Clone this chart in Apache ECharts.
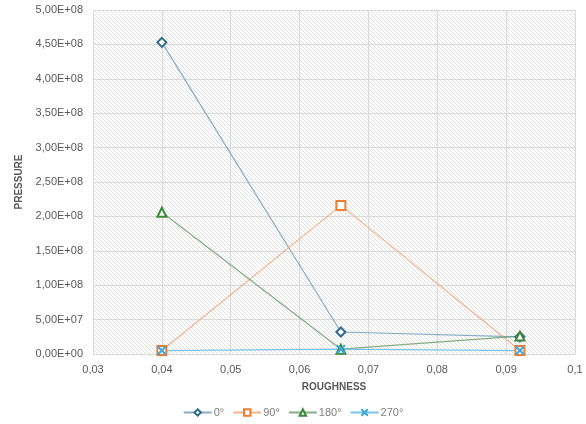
<!DOCTYPE html>
<html><head><meta charset="utf-8">
<script src="https://cdn.jsdelivr.net/npm/echarts@6/dist/echarts.min.js"></script>
<style>html,body{margin:0;padding:0;background:#fff}#c{width:586px;height:424px}</style>
</head><body><div id="c"></div>
<script>
const roughness = [0.04, 0.066, 0.092];
const s0 = [4.53e8, 3.2e7, 2.5e7];
const s90 = [5e6, 2.16e8, 5e6];
const s180 = [2.06e8, 7e6, 2.6e7];
const s270 = [5e6, 7e6, 5e6];
const seriesNames = ['0°', '90°', '180°', '270°'];

function pair(ys){ return roughness.map((x,i)=>[x, ys[i]]); }

const pc = document.createElement('canvas');
pc.width = 4; pc.height = 4;
const g = pc.getContext('2d');
g.fillStyle = '#ffffff'; g.fillRect(0,0,4,4);
g.strokeStyle = '#e0e0e0'; g.lineWidth = 1;
g.beginPath(); g.moveTo(-1,-1); g.lineTo(5,5); g.moveTo(-1,3); g.lineTo(1,5); g.moveTo(3,-1); g.lineTo(5,1); g.stroke();

function fmtY(v){
  if (v === 0) return '0,00E+00';
  let e = Math.floor(Math.log10(Math.abs(v)) + 1e-9);
  let m = v / Math.pow(10, e);
  return m.toFixed(2).replace('.', ',') + 'E+' + String(e).padStart(2,'0');
}
function fmtX(v){ return String(Math.round(v*100)/100).replace('.', ','); }

const ff = 'Liberation Sans, Arial, sans-serif';
const chart = echarts.init(document.getElementById('c'));
const mk = (name, data, sym, color, lineColor, size) => ({
  name, type:'line', data: pair(data), symbol: sym, symbolSize: size,
  showSymbol:true,
  lineStyle:{color: lineColor, width:1.2},
  itemStyle:{color: color, borderColor: color, borderWidth: 2},
  z: 3
});
chart.setOption({
  animation:false,
  grid:{left:93, right:11, top:10, bottom:70, show:true, backgroundColor:{image: pc, repeat:'repeat'}, borderWidth:0},
  xAxis:{type:'value', min:0.03, max:0.1, interval:0.01,
    name:'ROUGHNESS', nameLocation:'middle', nameGap:28,
    nameTextStyle:{fontFamily:ff, fontWeight:'bold', fontSize:10, color:'#595959'},
    axisLine:{show:false}, axisTick:{show:false},
    axisLabel:{formatter: fmtX, fontFamily:ff, fontSize:11, color:'#595959', margin:10, showMaxLabel:true},
    splitLine:{show:true, lineStyle:{color:'#d9d9d9', width:1}}},
  yAxis:{type:'value', min:0, max:5e8, interval:5e7,
    name:'PRESSURE', nameLocation:'middle', nameGap:67,
    nameTextStyle:{fontFamily:ff, fontWeight:'bold', fontSize:10, color:'#595959'},
    axisLine:{show:false}, axisTick:{show:false},
    axisLabel:{formatter: fmtY, fontFamily:ff, fontSize:11, color:'#595959', margin:10},
    splitLine:{show:true, lineStyle:{color:'#d9d9d9', width:1}}},
  legend:{bottom:1, left:'center', itemWidth:28, itemHeight:8, itemGap:8,
    textStyle:{fontFamily:ff, fontSize:11, color:'#7f7f7f', padding:[0,0,0,-3]}, data: seriesNames},
  series:[
    mk(seriesNames[0], s0, 'emptyDiamond', '#2F6B8C', 'rgba(95,145,180,0.75)', 9),
    mk(seriesNames[1], s90, 'emptyRect', '#ED7D31', 'rgba(244,170,130,0.9)', 9),
    mk(seriesNames[2], s180, 'emptyTriangle', '#3A8A3A', 'rgba(110,160,110,0.85)', 9),
    mk(seriesNames[3], s270, 'path://M0,0L10,10M10,0L0,10', '#3BA7E0', 'rgba(110,190,230,0.9)', 8)
  ]
});
</script></body></html>
